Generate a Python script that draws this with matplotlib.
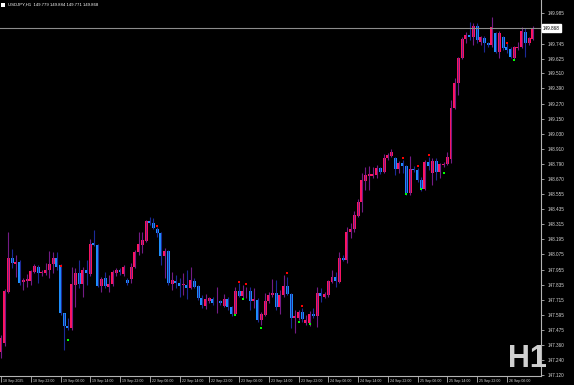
import numpy as np
import matplotlib

matplotlib.use("Agg")
import matplotlib.pyplot as plt
from matplotlib.patches import Rectangle
from matplotlib.transforms import ScaledTranslation

# USDJPY H1 candles, 18 Sep 14:00 .. 26 Sep 13:00
opens = [147.302, 147.373, 147.777, 148.047, 147.999, 148.015, 147.857, 147.864, 147.864, 147.936,
         147.975, 147.928, 147.928, 147.952, 147.999, 148.047, 147.991, 147.611, 147.508, 147.492,
         147.833, 147.928, 147.841, 147.952, 147.920, 148.165, 148.150, 147.825, 147.888, 147.817,
         147.841, 147.928, 147.952, 147.920, 147.872, 147.880, 147.975, 148.094, 148.150, 148.181,
         148.340, 148.324, 148.276, 148.245, 148.062, 148.102, 147.841, 147.864, 147.849, 147.833,
         147.833, 147.809, 147.864, 147.825, 147.730, 147.666, 147.706, 147.722, 147.690, 147.706,
         147.666, 147.722, 147.659, 147.603, 147.785, 147.746, 147.785, 147.785, 147.706, 147.714,
         147.556, 147.595, 147.706, 147.754, 147.769, 147.659, 147.754, 147.825, 147.762, 147.571,
         147.571, 147.619, 147.532, 147.532, 147.603, 147.587, 147.769, 147.738, 147.754, 147.857,
         147.896, 147.857, 148.047, 148.031, 148.253, 148.276, 148.379, 148.490, 148.656, 148.696,
         148.696, 148.704, 148.759, 148.728, 148.839, 148.854, 148.839, 148.752, 148.799, 148.775,
         148.561, 148.752, 148.744, 148.664, 148.593, 148.807, 148.720, 148.815, 148.728, 148.783,
         148.795, 148.831, 149.235, 149.433, 149.631, 149.781, 149.813, 149.797, 149.884, 149.757,
         149.789, 149.749, 149.734, 149.829, 149.678, 149.797, 149.718, 149.702, 149.631, 149.710,
         149.718, 149.837, 149.749, 149.779]
highs = [147.437, 147.801, 148.253, 148.118, 148.070, 148.031, 147.888, 147.920, 147.952, 147.999,
         147.991, 147.952, 148.007, 148.102, 148.094, 148.094, 147.999, 147.611, 147.571, 147.975,
         147.967, 148.031, 147.975, 148.031, 148.197, 148.268, 148.158, 147.896, 147.936, 147.912,
         147.952, 147.967, 147.967, 147.991, 147.888, 148.007, 148.110, 148.253, 148.253, 148.348,
         148.371, 148.364, 148.292, 148.253, 148.126, 148.110, 147.936, 147.912, 147.888, 147.928,
         147.952, 147.975, 147.888, 147.833, 147.754, 147.762, 147.738, 147.738, 147.817, 147.714,
         147.762, 147.738, 147.666, 147.817, 147.849, 147.833, 147.817, 147.817, 147.809, 147.730,
         147.619, 147.769, 147.777, 147.880, 147.872, 147.793, 147.912, 147.896, 147.769, 147.635,
         147.635, 147.650, 147.595, 147.627, 147.650, 147.817, 147.809, 147.777, 147.872, 147.952,
         147.936, 148.094, 148.070, 148.292, 148.324, 148.419, 148.514, 148.720, 148.767, 148.775,
         148.767, 148.783, 148.767, 148.870, 148.878, 148.910, 148.847, 148.815, 148.823, 148.783,
         148.854, 148.775, 148.759, 148.688, 148.823, 148.847, 148.839, 148.839, 148.799, 148.807,
         148.886, 149.298, 149.472, 149.639, 149.797, 149.837, 149.916, 149.908, 149.908, 149.805,
         149.805, 149.757, 149.955, 149.837, 149.844, 149.805, 149.749, 149.718, 149.726, 149.757,
         149.876, 149.868, 149.797, 149.884]
lows = [147.255, 147.350, 147.769, 147.967, 147.896, 147.833, 147.793, 147.817, 147.833, 147.928,
        147.849, 147.904, 147.912, 147.888, 147.928, 147.952, 147.595, 147.318, 147.476, 147.476,
        147.659, 147.809, 147.738, 147.833, 147.904, 148.142, 147.817, 147.777, 147.809, 147.777,
        147.825, 147.904, 147.912, 147.904, 147.833, 147.849, 147.967, 148.070, 148.086, 148.173,
        148.308, 148.276, 148.213, 147.991, 147.888, 147.833, 147.793, 147.809, 147.738, 147.754,
        147.722, 147.801, 147.809, 147.714, 147.650, 147.643, 147.690, 147.674, 147.611, 147.674,
        147.659, 147.635, 147.587, 147.595, 147.738, 147.730, 147.730, 147.635, 147.650, 147.540,
        147.516, 147.587, 147.690, 147.738, 147.635, 147.603, 147.738, 147.754, 147.492, 147.453,
        147.556, 147.540, 147.516, 147.508, 147.571, 147.500, 147.698, 147.730, 147.738, 147.849,
        147.817, 147.849, 148.023, 148.007, 148.205, 148.253, 148.371, 148.411, 148.585, 148.585,
        148.680, 148.680, 148.712, 148.720, 148.823, 148.847, 148.704, 148.720, 148.720, 148.546,
        148.546, 148.728, 148.648, 148.577, 148.585, 148.744, 148.625, 148.664, 148.680, 148.767,
        148.783, 148.799, 149.227, 149.338, 149.623, 149.749, 149.773, 149.734, 149.749, 149.734,
        149.678, 149.718, 149.718, 149.670, 149.631, 149.694, 149.670, 149.631, 149.615, 149.694,
        149.710, 149.639, 149.734, 149.771]
closes = [147.413, 147.785, 148.047, 148.007, 148.015, 147.849, 147.872, 147.880, 147.944, 147.983,
          147.928, 147.936, 147.952, 147.999, 148.047, 147.975, 147.611, 147.508, 147.492, 147.841,
          147.928, 147.841, 147.952, 147.928, 148.158, 148.150, 147.825, 147.880, 147.825, 147.841,
          147.936, 147.952, 147.936, 147.975, 147.849, 147.975, 148.094, 148.158, 148.189, 148.340,
          148.324, 148.284, 148.245, 148.062, 148.102, 147.849, 147.872, 147.849, 147.825, 147.833,
          147.809, 147.872, 147.817, 147.730, 147.674, 147.722, 147.730, 147.690, 147.690, 147.690,
          147.722, 147.659, 147.603, 147.785, 147.746, 147.785, 147.785, 147.706, 147.722, 147.556,
          147.603, 147.706, 147.754, 147.769, 147.659, 147.754, 147.825, 147.762, 147.571, 147.587,
          147.619, 147.564, 147.556, 147.603, 147.587, 147.769, 147.746, 147.762, 147.864, 147.896,
          147.864, 148.047, 148.031, 148.253, 148.276, 148.387, 148.490, 148.664, 148.704, 148.712,
          148.712, 148.759, 148.728, 148.839, 148.862, 148.886, 148.752, 148.799, 148.775, 148.561,
          148.752, 148.744, 148.664, 148.593, 148.807, 148.775, 148.815, 148.728, 148.791, 148.791,
          148.850, 149.235, 149.433, 149.631, 149.781, 149.813, 149.797, 149.884, 149.773, 149.797,
          149.749, 149.734, 149.876, 149.678, 149.829, 149.710, 149.694, 149.639, 149.718, 149.718,
          149.844, 149.749, 149.789, 149.868]

# fractal markers (bar index, price)
up_fractal_bars = [16, 42, 64, 66, 77, 81, 108, 112, 115, 136]
up_fractal_prices = [147.983, 148.300, 147.857, 147.841, 147.928, 147.666, 148.839, 148.775, 148.862, 149.749]
down_fractal_bars = [18, 63, 65, 70, 80, 83, 109, 113, 119, 138]
down_fractal_prices = [147.397, 147.595, 147.722, 147.492, 147.540, 147.524, 148.554, 148.593, 148.720, 149.615]

time_labels = ["18 Sep 2025", "18 Sep 22:00", "19 Sep 06:00", "19 Sep 14:00", "19 Sep 22:00",
               "22 Sep 06:00", "22 Sep 14:00", "22 Sep 22:00", "23 Sep 06:00", "23 Sep 14:00",
               "23 Sep 22:00", "24 Sep 06:00", "24 Sep 14:00", "24 Sep 22:00", "25 Sep 06:00",
               "25 Sep 14:00", "25 Sep 22:00", "26 Sep 06:00"]
price_ticks = [149.985, 149.745, 149.625, 149.510, 149.390, 149.270, 149.150, 149.030, 148.910,
               148.790, 148.670, 148.555, 148.435, 148.315, 148.195, 148.075, 147.955, 147.835,
               147.715, 147.595, 147.475, 147.360, 147.240, 147.120]
last_price = 149.868
header = "USDJPY,H1  149.779 149.884 149.771 149.868"

UP, DN = "#ff1462", "#1e90ff"
WICK_UP, WICK_DN = "#741c86", "#1c2a98"
AXIS = "#b4b4b4"
FONT = "Liberation Sans"

o, h, l, c = map(np.array, (opens, highs, lows, closes))
x = np.arange(len(o))
bull = c >= o

fig = plt.figure(figsize=(5.74, 3.85), dpi=100, facecolor="black")
ax = fig.add_axes([0, 9 / 385, 541 / 574, 376 / 385])
ax.set_facecolor("black")

ax.vlines(x[bull], l[bull], h[bull], color=WICK_UP, lw=0.8)
ax.vlines(x[~bull], l[~bull], h[~bull], color=WICK_DN, lw=0.8)
body = np.maximum(np.abs(c - o), 0.004)
low_edge = np.minimum(o, c)
ax.bar(x[bull], body[bull], bottom=low_edge[bull], width=0.8, color=UP, linewidth=0)
ax.bar(x[~bull], body[~bull], bottom=low_edge[~bull], width=0.8, color=DN, linewidth=0)

ax.scatter(up_fractal_bars, up_fractal_prices, marker="s", s=3, color="#ff0000", linewidths=0, zorder=3)
ax.scatter(down_fractal_bars, down_fractal_prices, marker="s", s=3, color="#00ff00", linewidths=0, zorder=3)

ax.axhline(last_price, color="#8c8c8c", lw=0.8)

ax.set_xlim(-0.27, 145.2)
ax.set_ylim(147.112, 150.090)

for side in ("top", "left"):
    ax.spines[side].set_visible(False)
for side in ("right", "bottom"):
    ax.spines[side].set_color(AXIS)
    ax.spines[side].set_linewidth(0.8)

ax.yaxis.tick_right()
ax.set_yticks(price_ticks)
ax.set_yticklabels([f"{p:.3f}" for p in price_ticks])
ax.tick_params(axis="y", colors=AXIS, labelcolor="#d8d8d8", labelsize=3.3, length=2.5,
               width=0.6, pad=2)
for lab in ax.get_yticklabels():
    lab.set_family(FONT)

ax.set_xticks(x[::8])
ax.set_xticklabels(time_labels)
ax.tick_params(axis="x", colors=AXIS, labelcolor="#d8d8d8", labelsize=2.6, length=4,
               width=0.6, pad=-2.0)
shift = ScaledTranslation(2 / 100, 0, fig.dpi_scale_trans)
for lab in ax.get_xticklabels():
    lab.set_horizontalalignment("left")
    lab.set_family(FONT)
    lab.set_transform(lab.get_transform() + shift)

ax.text(1.004, last_price, f"{last_price:.3f}", transform=ax.get_yaxis_transform(),
        ha="left", va="center", fontsize=3.3, family=FONT, color="black",
        bbox=dict(boxstyle="square,pad=0.25", fc="white", ec="white"), clip_on=False)

fig.patches.append(Rectangle((1 / 574, 1 - 7 / 385), 4 / 574, 4 / 385, transform=fig.transFigure,
                             facecolor="white", edgecolor="none"))
fig.text(8 / 574, 1 - 5 / 385, header, fontsize=3.1, family=FONT, color="white",
         ha="left", va="center")
fig.text(508 / 574, 1 - 367 / 385, "H1", fontsize=22, family=FONT, weight="bold",
         color="#cfcfcf", ha="left", va="baseline")

fig.savefig("out.png", dpi=100, facecolor="black")
